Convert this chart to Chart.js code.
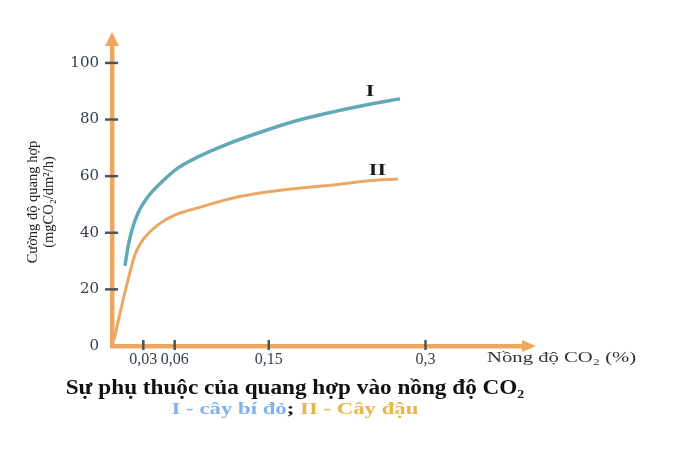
<!DOCTYPE html>
<html>
    <head>
        <title>Quang hop - CO2</title>
        <meta charset="utf-8" />
        <script src="https://cdn.jsdelivr.net/npm/chart.js@4.4.0/dist/chart.umd.min.js"></script>
        <style>
            * {
                margin: 0;
                padding: 0;
                box-sizing: border-box;
            }
            body {
                background-color: #ffffff;
                width: 675px;
                height: 453px;
                overflow: hidden;
                position: relative;
                font-family: "Liberation Serif", serif;
            }
            #wrap {
                position: absolute;
                left: 0;
                top: 0;
                width: 675px;
                height: 453px;
            }
            .caption {
                position: absolute;
                left: 0;
                width: 590px;
                text-align: center;
                font-weight: bold;
                white-space: nowrap;
                transform-origin: 295px 50%;
            }
            #cap1 {
                top: 376px;
                font-size: 20px;
                color: #111;
                transform: scaleX(1.16);
            }
            #cap2 {
                top: 399px;
                font-size: 17px;
                color: #111;
                transform: scaleX(1.34);
            }
        </style>
    </head>
    <body>

        <div id="wrap">
            <canvas id="myChart" width="675" height="453"></canvas>
        </div>
        <div class="caption" id="cap1">Sự phụ thuộc của quang hợp vào nồng độ CO₂</div>
        <div class="caption" id="cap2"><span style="color:#80b2ee">I - cây bí đỏ</span>; <span style="color:#e6b64a">II - Cây đậu</span></div>

        <script>
            // values (CO2 % , mgCO2/dm2/h)
            const co2I  = [0.0124, 0.0153, 0.0191, 0.0249, 0.0344, 0.0478, 0.0632, 0.0823, 0.1081, 0.1483, 0.1799, 0.2115, 0.244, 0.2756];
            const rateI = [28.3, 35, 41, 47, 52.7, 58, 62.9, 66.8, 71, 76.3, 79.9, 82.7, 85.2, 87.3];

            const co2II  = [0.0019, 0.0077, 0.0153, 0.022, 0.0268, 0.0316, 0.044, 0.0603, 0.0823, 0.1158, 0.1483, 0.1799, 0.2115, 0.244, 0.2737];
            const rateII = [2.1, 11.7, 23.3, 32.3, 35.9, 38.5, 42.8, 46.3, 48.8, 52.3, 54.4, 55.8, 56.9, 58.3, 59];

            const xTicks = [0.03, 0.06, 0.15, 0.3];
            const yTicks = [0, 20, 40, 60, 80, 100];
            const seriesNames = ['I', 'II'];

            const AXIS = '#efa760';
            const TICK = '#4b5560';
            const SERIF = '"Liberation Serif", serif';

            const data = {
                datasets: [{
                    label: seriesNames[0],
                    data: co2I.map((v, i) => ({ x: v, y: rateI[i] })),
                    borderColor: '#62a9b8',
                    borderWidth: 3.5,
                    pointRadius: 0,
                    cubicInterpolationMode: 'monotone',
                    fill: false
                }, {
                    label: seriesNames[1],
                    data: co2II.map((v, i) => ({ x: v, y: rateII[i] })),
                    borderColor: '#eba865',
                    borderWidth: 3,
                    pointRadius: 0,
                    cubicInterpolationMode: 'monotone',
                    fill: false
                }]
            };

            // text in the picture is stretched sideways
            function wideText(ctx, text, x, y, sx) {
                ctx.save();
                ctx.translate(x, y);
                ctx.scale(sx, 1);
                ctx.fillText(text, 0, 0);
                ctx.restore();
            }

            // arrows, tick marks and text that Chart.js doesn't do by itself
            const extras = {
                id: 'extras',
                afterDraw(chart) {
                    const ctx = chart.ctx;
                    const xs = chart.scales.x;
                    const ys = chart.scales.y;
                    const area = chart.chartArea;
                    const x0 = xs.getPixelForValue(0);
                    const y0 = ys.getPixelForValue(0);
                    ctx.save();

                    // arrow heads
                    ctx.fillStyle = AXIS;
                    ctx.beginPath();
                    ctx.moveTo(x0, area.top - 6);
                    ctx.lineTo(x0 - 7, area.top + 8);
                    ctx.lineTo(x0 + 7, area.top + 8);
                    ctx.closePath();
                    ctx.fill();
                    ctx.beginPath();
                    ctx.moveTo(area.right + 6, y0);
                    ctx.lineTo(area.right - 8, y0 - 6);
                    ctx.lineTo(area.right - 8, y0 + 6);
                    ctx.closePath();
                    ctx.fill();

                    // tick marks crossing the axes
                    ctx.strokeStyle = TICK;
                    ctx.lineWidth = 2.5;
                    yTicks.forEach(v => {
                        if (v === 0) return;
                        const py = ys.getPixelForValue(v);
                        ctx.beginPath();
                        ctx.moveTo(x0 - 7, py);
                        ctx.lineTo(x0 + 6, py);
                        ctx.stroke();
                    });
                    xTicks.forEach(v => {
                        const px = xs.getPixelForValue(v);
                        ctx.beginPath();
                        ctx.moveTo(px, y0 - 6);
                        ctx.lineTo(px, y0 + 4);
                        ctx.stroke();
                    });

                    // curve names
                    ctx.fillStyle = '#1a1a1a';
                    ctx.font = 'bold 17px ' + SERIF;
                    ctx.textAlign = 'center';
                    ctx.textBaseline = 'middle';
                    wideText(ctx, seriesNames[0], xs.getPixelForValue(0.247), ys.getPixelForValue(90), 1.3);
                    wideText(ctx, seriesNames[1], xs.getPixelForValue(0.254), ys.getPixelForValue(62), 1.3);

                    // x axis name, right of the ticks
                    ctx.fillStyle = '#333';
                    ctx.font = '15px ' + SERIF;
                    ctx.textAlign = 'left';
                    wideText(ctx, 'Nồng độ CO₂ (%)', 487, y0 + 12, 1.38);

                    // y axis name, rotated
                    ctx.save();
                    ctx.translate(33, 202);
                    ctx.rotate(-Math.PI / 2);
                    ctx.textAlign = 'center';
                    ctx.font = '14.5px ' + SERIF;
                    ctx.fillStyle = '#222';
                    ctx.fillText('Cường độ quang hợp', 0, 0);
                    ctx.fillText('(mgCO₂/dm²/h)', 0, 16);
                    ctx.restore();

                    ctx.restore();
                }
            };

            const chartConfig = {
                type: 'line',
                data,
                plugins: [extras],
                options: {
                    responsive: false,
                    animation: false,
                    events: [],
                    layout: {
                        padding: { left: 0, top: 38, right: 145, bottom: 77 }
                    },
                    plugins: {
                        legend: { display: false },
                        tooltip: { enabled: false }
                    },
                    scales: {
                        x: {
                            type: 'linear',
                            min: 0,
                            max: 0.4,
                            afterBuildTicks: s => { s.ticks = xTicks.map(v => ({ value: v })); },
                            afterFit: s => { s.height = 30; },
                            grid: { display: false, drawTicks: false },
                            border: { color: AXIS, width: 4.5 },
                            ticks: {
                                padding: 4,
                                color: '#36404a',
                                font: { family: SERIF, size: 16 },
                                callback: v => String(v).replace('.', ',')
                            }
                        },
                        y: {
                            min: 0,
                            max: 108.8,
                            afterBuildTicks: s => { s.ticks = yTicks.map(v => ({ value: v })); },
                            afterFit: s => { s.width = 112; },
                            grid: { display: false, drawTicks: false },
                            border: { color: AXIS, width: 4.5 },
                            ticks: {
                                padding: 13,
                                color: '#36404a',
                                font: { family: '"DejaVu Serif", serif', size: 15 }
                            }
                        }
                    }
                }
            };

            new Chart(document.getElementById('myChart'), chartConfig);
        </script>
    </body>
</html>
